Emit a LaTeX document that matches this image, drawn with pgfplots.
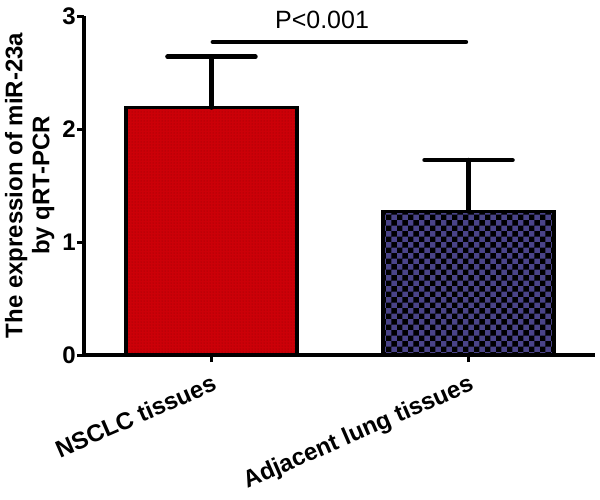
\documentclass[border=0pt]{standalone}
\usepackage{fontspec}
\setmainfont{Liberation Sans}
\usepackage{pgfplots}
\pgfplotsset{compat=1.18}
\usetikzlibrary{patterns}
\definecolor{barred}{HTML}{CC0008}
\definecolor{barnavy}{HTML}{4A4488}
\begin{document}
\begin{tikzpicture}
\path[use as bounding box] (-84pt,-144pt) rectangle (516pt,355pt);
\begin{axis}[
  scale only axis,
  width=511pt, height=339pt,
  xmin=-0.496, xmax=1.492,
  ymin=0, ymax=3,
  ytick={0,1,2,3},
  xtick={0,1},
  xticklabels={NSCLC tissues, Adjacent lung tissues},
  axis x line*=bottom, axis y line*=left,
  axis line style={line width=3.5pt,-},
  tick align=outside,
  major tick length=7pt,
  tick style={line width=3pt, black},
  /pgf/number format/assume math mode=true,
  yticklabel style={font=\bfseries\fontsize{24}{24}\selectfont, inner sep=1pt},
  xticklabel shift=10pt,
  xticklabel style={font=\bfseries\fontsize{24}{24}\selectfont, rotate=23.5, anchor=north east, inner sep=1pt},
  ylabel={The expression of miR-23a\\by qRT-PCR},
  ylabel style={at={(axis description cs:-0.051,0.5)}, anchor=south, align=center,
    font=\bfseries\fontsize{24}{27}\selectfont},
  ybar, bar width=171pt, bar shift=0pt,
  clip=false,
]
\addplot[draw=black, line width=3.5pt, fill=barred,
  postaction={pattern=dots, pattern color=barred!70!black},
  error bars/.cd, y dir=plus, y explicit, error mark=|,
  error bar style={line width=4.5pt, black, line cap=round},
  error mark options={line width=4.5pt, black, mark size=44pt, line cap=round}]
  coordinates {(0,2.19) +- (0,0.45)};
\addplot[draw=black, line width=3.5pt, fill=barnavy,
  postaction={pattern=checkerboard, pattern color=black},
  error bars/.cd, y dir=plus, y explicit, error mark=|,
  error bar style={line width=4.5pt, black, line cap=round},
  error mark options={line width=4.5pt, black, mark size=44pt, line cap=round}]
  coordinates {(1,1.27) +- (0,0.455)};
\addplot[sharp plot, black, line width=4.5pt, line cap=round, mark=none]
  coordinates {(0.005,2.77) (0.99,2.77)};
\node[font=\fontsize{25}{25}\selectfont] at (axis cs:0.43,2.97) {P<0.001};
\end{axis}
\end{tikzpicture}
\end{document}
